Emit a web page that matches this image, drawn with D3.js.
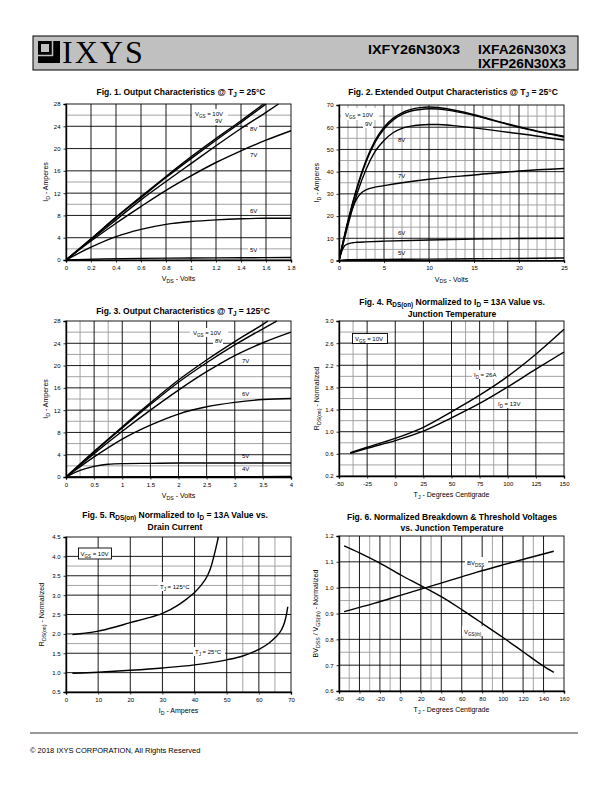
<!DOCTYPE html>
<html><head><meta charset="utf-8">
<script src="https://cdn.jsdelivr.net/npm/d3@7/dist/d3.min.js"></script>
<style>body{margin:0;background:#fff}svg{display:block}</style>
</head><body>
<svg id="page" width="612" height="792"></svg>
<script>
// ---------------- DATA ----------------
// Fig.1 Output characteristics @ 25C (VDS volts, ID amps)
const fig1_10V = [[0,0],[0.2,3.8],[0.4,7.7],[0.6,11.4],[0.8,15.0],[1.0,18.5],[1.2,21.8],[1.4,25.0],[1.58,28]];
const fig1_9V  = [[0,0],[0.2,3.75],[0.4,7.6],[0.6,11.2],[0.8,14.8],[1.0,18.2],[1.2,21.5],[1.4,24.7],[1.6,28]];
const fig1_8V  = [[0,0],[0.2,3.6],[0.4,7.2],[0.6,10.8],[0.8,14.1],[1.0,17.3],[1.2,20.5],[1.4,23.6],[1.6,26.5],[1.7,28]];
const fig1_7V  = [[0,0],[0.2,3.4],[0.4,6.6],[0.6,9.6],[0.8,12.5],[1.0,15.1],[1.2,17.5],[1.4,19.6],[1.6,21.5],[1.8,23.2]];
const fig1_6V  = [[0,0],[0.2,2.3],[0.4,4.2],[0.6,5.5],[0.8,6.4],[1.0,6.9],[1.2,7.2],[1.4,7.4],[1.6,7.5],[1.8,7.5]];
const fig1_5V  = [[0,0],[0.3,0.2],[0.6,0.3],[1.0,0.35],[1.4,0.4],[1.8,0.45]];
// Fig.2 Extended output characteristics @ 25C
const fig2_10V = [[0,0],[1,18],[2,33],[3,45],[4,54],[5,60],[6,64],[7,66.5],[8,68],[9,68.8],[10,69.1],[11,68.9],[12,68.3],[13,67.5],[15,65.6],[17,63.4],[19,61.2],[21,59.2],[23,57.4],[25,56]];
const fig2_9V  = [[0,0],[1,17.5],[2,32.3],[3,44.3],[4,53.2],[5,59.2],[6,63.2],[7,65.8],[8,67.3],[9,68],[10,68.3],[11,68.2],[12,67.7],[13,67],[15,65.3],[17,63.2],[19,61],[21,59],[23,57.2],[25,55.6]];
const fig2_8V  = [[0,0],[1,16],[2,30],[3,41],[4,49],[5,54],[6,57.5],[7,59.5],[8,60.5],[9,61],[10,61.2],[11,61.2],[12,61],[13,60.6],[15,59.7],[17,58.7],[19,57.6],[21,56.6],[23,55.4],[25,54.2]];
const fig2_7V  = [[0,0],[0.5,9],[1,17],[1.5,23.5],[2,28],[2.5,30.5],[3,31.8],[4,33],[5,33.7],[7,35],[10,36.6],[15,38.5],[20,40.3],[25,41.4]];
const fig2_6V  = [[0,0],[0.3,4],[0.6,6.5],[1,7.5],[1.5,8],[2,8.2],[3,8.4],[5,8.7],[10,9.2],[15,9.6],[20,9.9],[25,10]];
const fig2_5V  = [[0,0],[1,0.4],[5,0.5],[10,0.6],[15,0.8],[20,0.9],[25,1.1]];
// Fig.3 Output characteristics @ 125C
const fig3_10V = [[0,0],[0.5,4.6],[1,9.0],[1.5,13.3],[2,17.4],[2.5,21.0],[3,24.3],[3.5,27.4],[3.59,28]];
const fig3_8V  = [[0,0],[0.5,4.5],[1,8.8],[1.5,13.0],[2,17.0],[2.5,20.5],[3,23.7],[3.5,26.6],[3.75,28]];
const fig3_7V  = [[0,0],[0.5,4.2],[1,8.2],[1.5,12],[2,15.6],[2.5,18.9],[3,21.8],[3.5,24.1],[4,26]];
const fig3_6V  = [[0,0],[0.5,3.6],[1,6.8],[1.5,9.3],[2,11.3],[2.5,12.6],[3,13.4],[3.5,13.9],[4,14.1]];
const fig3_5V  = [[0,0],[0.25,1.2],[0.5,1.9],[0.75,2.3],[1,2.4],[1.5,2.45],[2,2.5],[3,2.5],[4,2.5]];
const fig3_4V  = [[0,0],[2,0.05],[4,0.08]];
// Fig.4 RDS(on) normalized vs junction temperature
const fig4_26A = [[-40,0.62],[-25,0.72],[0,0.88],[25,1.08],[50,1.36],[75,1.66],[100,2.0],[125,2.4],[150,2.85]];
const fig4_13A = [[-40,0.61],[-25,0.70],[0,0.84],[25,1.01],[50,1.25],[75,1.51],[100,1.81],[125,2.13],[150,2.44]];
// Fig.5 RDS(on) normalized vs drain current
const fig5_125C = [[2,1.98],[5,2.01],[10,2.07],[15,2.17],[20,2.29],[25,2.4],[30,2.53],[35,2.75],[38,2.93],[40,3.07],[42,3.25],[44,3.5],[45,3.7],[46,4.0],[47,4.35],[47.4,4.5]];
const fig5_25C  = [[2,0.98],[5,0.99],[10,1.01],[20,1.06],[30,1.12],[40,1.2],[50,1.33],[55,1.43],[60,1.6],[63,1.75],[65,1.9],[67,2.1],[68,2.3],[68.7,2.55],[69,2.7]];
// Fig.6 Normalized breakdown & threshold voltages
const fig6_BVDSS = [[-55,0.907],[-25,0.94],[0,0.97],[25,1.0],[50,1.03],[75,1.06],[100,1.088],[125,1.115],[150,1.141]];
const fig6_VGSth = [[-55,1.162],[-40,1.135],[-20,1.095],[0,1.05],[20,1.008],[40,0.965],[60,0.915],[80,0.862],[100,0.808],[120,0.752],[140,0.696],[150,0.672]];
// tick values
const fig1XTicks = [0,0.2,0.4,0.6,0.8,1,1.2,1.4,1.6,1.8];
const fig1YTicks = [0,4,8,12,16,20,24,28];
const fig2XTicks = [0,5,10,15,20,25];
const fig2YTicks = [0,10,20,30,40,50,60,70];
const fig3XTicks = [0,0.5,1,1.5,2,2.5,3,3.5,4];
const fig3YTicks = [0,4,8,12,16,20,24,28];
const fig4XTicks = [-50,-25,0,25,50,75,100,125,150];
const fig4YTicks = [0.2,0.6,1.0,1.4,1.8,2.2,2.6,3.0];
const fig5XTicks = [0,10,20,30,40,50,60,70];
const fig5YTicks = [0.5,1.0,1.5,2.0,2.5,3.0,3.5,4.0,4.5];
const fig6XTicks = [-60,-40,-20,0,20,40,60,80,100,120,140,160];
const fig6YTicks = [0.6,0.7,0.8,0.9,1.0,1.1,1.2];

// ---------------- DRAWING ----------------
const svg = d3.select('#page');
const SANS = "'Liberation Sans', Arial, sans-serif";
const NARROW = "'Liberation Sans Narrow', 'Liberation Sans', Arial, sans-serif";

function rich(t, str, size){
  const parts = str.split(/(_\{[^}]*\}|\^\{[^}]*\})/);
  let pending = 0;
  parts.forEach(p=>{
    if(!p) return;
    if(p.startsWith('_{')){
      t.append('tspan').attr('font-size', size*0.75).attr('dy', size*0.25 - pending).text(p.slice(2,-1));
      pending = size*0.25;
    } else {
      const s = t.append('tspan').text(p);
      if(pending){ s.attr('dy', -pending); pending = 0; }
    }
  });
  return t;
}

function text(x, y, str, opt={}){
  const size = opt.size || 7;
  const t = svg.append('text').attr('x', x).attr('y', y)
    .attr('font-family', opt.family || SANS).attr('font-size', size)
    .attr('font-weight', opt.weight || 'normal')
    .attr('text-anchor', opt.anchor || 'start').attr('fill', '#000');
  if(opt.rotate) t.attr('transform', `rotate(-90,${x},${y})`);
  rich(t, str, size);
  return t;
}

// Header
svg.append('rect').attr('x',33).attr('y',36).attr('width',545).attr('height',34)
  .attr('fill','#c0c0c0').attr('stroke','#000').attr('stroke-width',1);
// logo mark
svg.append('rect').attr('x',38).attr('y',41).attr('width',22).attr('height',22).attr('fill','#000');
svg.append('rect').attr('x',41).attr('y',44).attr('width',8).attr('height',8).attr('fill','#c0c0c0');
svg.append('line').attr('x1',38).attr('x2',53).attr('y1',55.5).attr('y2',55.5).attr('stroke','#c0c0c0').attr('stroke-width',1.5);
svg.append('line').attr('x1',52.5).attr('x2',52.5).attr('y1',41).attr('y2',56).attr('stroke','#c0c0c0').attr('stroke-width',1.5);
text(62, 63, 'IXYS', {size:32, family:"'Liberation Serif', 'DejaVu Serif', serif"}).attr('letter-spacing', 2);
text(368, 53.5, 'IXFY26N30X3', {size:12, weight:'bold'}).attr('textLength',92).attr('lengthAdjust','spacingAndGlyphs');
text(478, 53.5, 'IXFA26N30X3', {size:12, weight:'bold'}).attr('textLength',88).attr('lengthAdjust','spacingAndGlyphs');
text(478, 67.5, 'IXFP26N30X3', {size:12, weight:'bold'}).attr('textLength',88).attr('lengthAdjust','spacingAndGlyphs');

// Footer
svg.append('line').attr('x1',30).attr('x2',578).attr('y1',733).attr('y2',733).attr('stroke','#000').attr('stroke-width',0.8);
text(30, 753, '© 2018 IXYS CORPORATION, All Rights Reserved', {size:7.5});

function chart(cfg){
  const {x0,x1,y0,y1} = cfg.box;
  const xs = d3.scaleLinear().domain(cfg.xDomain).range([x0,x1]);
  const ys = d3.scaleLinear().domain(cfg.yDomain).range([y1,y0]);
  const g = svg.append('g');
  (cfg.grayX||[]).forEach(v=>g.append('line').attr('x1',xs(v)).attr('x2',xs(v)).attr('y1',y0).attr('y2',y1).attr('stroke','#9a9a9a').attr('stroke-width',0.9));
  (cfg.grayY||[]).forEach(v=>g.append('line').attr('y1',ys(v)).attr('y2',ys(v)).attr('x1',x0).attr('x2',x1).attr('stroke','#9a9a9a').attr('stroke-width',0.9));
  (cfg.blackX||[]).forEach(v=>g.append('line').attr('x1',xs(v)).attr('x2',xs(v)).attr('y1',y0).attr('y2',y1).attr('stroke','#000').attr('stroke-width',0.9));
  (cfg.blackY||[]).forEach(v=>g.append('line').attr('y1',ys(v)).attr('y2',ys(v)).attr('x1',x0).attr('x2',x1).attr('stroke','#000').attr('stroke-width',0.9));
  g.append('rect').attr('x',x0).attr('y',y0).attr('width',x1-x0).attr('height',y1-y0).attr('fill','none').attr('stroke','#000').attr('stroke-width',0.9);
  const xa = g.append('g').attr('transform',`translate(0,${y1})`)
    .call(d3.axisBottom(xs).tickValues(cfg.xTicks).tickSize(2.5).tickPadding(3).tickFormat(cfg.xFmt||(d=>String(d))));
  const ya = g.append('g').attr('transform',`translate(${x0},0)`)
    .call(d3.axisLeft(ys).tickValues(cfg.yTicks).tickSize(2.5).tickPadding(3).tickFormat(cfg.yFmt||(d=>String(d))));
  [xa,ya].forEach(a=>{
    a.selectAll('path.domain').attr('stroke','#000').attr('stroke-width',1.4);
    a.selectAll('.tick line').attr('stroke','#000').attr('stroke-width',0.8);
    a.selectAll('text').attr('font-family',SANS).attr('font-size',6).attr('fill','#000');
  });
  (cfg.labels||[]).forEach(l=>{
    if(l.bg){ g.append('rect').attr('x',l.bg[0]).attr('y',l.bg[1]).attr('width',l.bg[2]).attr('height',l.bg[3]).attr('fill','#fff').attr('stroke', l.box?'#000':'none').attr('stroke-width',0.9); }
  });
  const clipId = 'clip'+cfg.id;
  svg.append('clipPath').attr('id',clipId).append('rect').attr('x',x0).attr('y',y0-1).attr('width',x1-x0+1).attr('height',y1-y0+1);
  const line = d3.line().x(d=>xs(d[0])).y(d=>ys(d[1])).curve(d3.curveMonotoneX);
  cfg.series.forEach(s=>{
    g.append('path').attr('d',line(s)).attr('fill','none').attr('stroke','#000').attr('stroke-width',1.4).attr('clip-path',`url(#${clipId})`);
  });
  (cfg.labels||[]).forEach(l=>{ text(l.x,l.y,l.t,{size:l.size||6}); });
  cfg.title.forEach((t,i)=>text(cfg.titleX, cfg.titleY+i*11.5, t, {size:8.5, weight:'bold', anchor:'middle', family:NARROW}));
  text((x0+x1)/2, y1+21, cfg.xLabel, {size:7, anchor:'middle'});
  text(x0-cfg.yLabelOff, (y0+y1)/2, cfg.yLabel, {size:7, anchor:'middle', rotate:true});
}

const f1 = d=>d===0?'0':d3.format('.1f')(d).replace(/\.0$/,'');
const f1d = d=>d3.format('.1f')(d);

chart({id:1, box:{x0:66,x1:291,y0:104,y1:260}, xDomain:[0,1.8], yDomain:[0,28],
  xTicks:fig1XTicks, yTicks:fig1YTicks, xFmt:f1,
  blackX:[0.2,0.4,0.6,0.8,1.0,1.2,1.4,1.6], blackY:[4,8,12,16,20,24], grayY:[2,10,14,26],
  series:[fig1_10V,fig1_9V,fig1_8V,fig1_7V,fig1_6V,fig1_5V],
  labels:[{x:195,y:116,t:'V_{GS} = 10V',bg:[192,109,36,9]},{x:215,y:123,t:'9V',bg:[213,117,10,8]},
          {x:250,y:131,t:'8V',bg:[248,125,11,8]},{x:250,y:157,t:'7V',bg:[248,151,11,8]},
          {x:250,y:213,t:'6V',bg:[248,207,11,8]},{x:250,y:252,t:'5V',bg:[248,246,11,8]}],
  title:['Fig. 1. Output Characteristics @ T_{J} = 25°C'], titleX:181, titleY:94.5,
  xLabel:'V_{DS} - Volts', yLabel:'I_{D} - Amperes', yLabelOff:18});

chart({id:2, box:{x0:339,x1:564,y0:105,y1:260.5}, xDomain:[0,25], yDomain:[0,70],
  xTicks:fig2XTicks, yTicks:fig2YTicks,
  blackX:[5,10,15,20], grayX:d3.range(1,25).filter(v=>v%5!==0), blackY:[10,20,30,40,50,60], grayY:[5,15,25,35,45,55,65],
  series:[fig2_10V,fig2_9V,fig2_8V,fig2_7V,fig2_6V,fig2_5V],
  labels:[{x:345,y:117,t:'V_{GS} = 10V',bg:[341,108,38,12]},{x:365,y:126,t:'9V',bg:[363,120,10,8]},
          {x:398,y:142,t:'8V'},{x:398,y:178,t:'7V'},{x:398,y:235,t:'6V'},{x:398,y:255,t:'5V'}],
  title:['Fig. 2. Extended Output Characteristics @ T_{J} = 25°C'], titleX:453, titleY:94.5,
  xLabel:'V_{DS} - Volts', yLabel:'I_{D} - Amperes', yLabelOff:20});

chart({id:3, box:{x0:66,x1:291,y0:321,y1:477}, xDomain:[0,4], yDomain:[0,28],
  xTicks:fig3XTicks, yTicks:fig3YTicks, xFmt:f1,
  blackX:[0.5,1,1.5,2,2.5,3,3.5], grayX:[0.25,0.75], blackY:[4,8,12,16,20,24], grayY:[2,6,10,14,18,22,26],
  series:[fig3_10V,fig3_8V,fig3_7V,fig3_6V,fig3_5V,fig3_4V],
  labels:[{x:193,y:335,t:'V_{GS} = 10V',bg:[190,328,38,9]},{x:215,y:343,t:'8V',bg:[213,337,10,8]},
          {x:242,y:363,t:'7V'},{x:242,y:396,t:'6V'},{x:242,y:458,t:'5V'},{x:242,y:471,t:'4V'}],
  title:['Fig. 3. Output Characteristics @ T_{J} = 125°C'], titleX:183, titleY:313.5,
  xLabel:'V_{DS} - Volts', yLabel:'I_{D} - Amperes', yLabelOff:18});

chart({id:4, box:{x0:339,x1:564,y0:321,y1:476}, xDomain:[-50,150], yDomain:[0.2,3.0],
  xTicks:fig4XTicks, yTicks:fig4YTicks, yFmt:f1d,
  blackX:[-25,0,25,50,75,100,125], grayX:[-37.5,62.5,87.5], blackY:[0.6,1.0,1.4,1.8,2.2,2.6], grayY:[0.4,0.8,1.2,1.6,2.0,2.4,2.8],
  series:[fig4_26A,fig4_13A],
  labels:[{x:355,y:341,t:'V_{GS} = 10V',bg:[352.5,333.5,35,10],box:true},
          {x:474,y:377,t:'I_{D} = 26A',bg:[472,370,31,9]},{x:498,y:406,t:'I_{D} = 13V',bg:[496,399,32,9]}],
  title:['Fig. 4. R_{DS(on)} Normalized to I_{D} = 13A Value vs.','Junction Temperature'], titleX:452, titleY:305,
  xLabel:'T_{J} - Degrees Centigrade', yLabel:'R_{DS(on)} - Normalized', yLabelOff:20});

chart({id:5, box:{x0:66,x1:291,y0:537,y1:692}, xDomain:[0,70], yDomain:[0.5,4.5],
  xTicks:fig5XTicks, yTicks:fig5YTicks, yFmt:f1d,
  blackX:[10,20,30,40,50,60], grayX:[55,65], blackY:[1.0,1.5,2.0,2.5,3.0,3.5,4.0], grayY:[1.75,3.25,3.75],
  series:[fig5_125C,fig5_25C],
  labels:[{x:80.5,y:556,t:'V_{GS} = 10V',bg:[78.5,548,33,11],box:true},
          {x:160,y:589,t:'T_{J} = 125°C',bg:[158,582,35,9]},{x:195,y:654,t:'T_{J} = 25°C',bg:[193,647,32,9]}],
  title:['Fig. 5. R_{DS(on)} Normalized to I_{D} = 13A Value vs.','Drain Current'], titleX:175, titleY:518,
  xLabel:'I_{D} - Amperes', yLabel:'R_{DS(on)} - Normalized', yLabelOff:22});

chart({id:6, box:{x0:339,x1:564,y0:536,y1:691}, xDomain:[-60,160], yDomain:[0.6,1.2],
  xTicks:fig6XTicks, yTicks:fig6YTicks, yFmt:f1d,
  blackX:[-40,-20,0,20,40,60,80,100,120,140], grayX:[-50,-30,-10,30,90,130], blackY:[0.7,0.8,0.9,1.0,1.1], grayY:[0.65,0.75,0.95],
  series:[fig6_BVDSS,fig6_VGSth],
  labels:[{x:467,y:565,t:'BV_{DSS}',bg:[465,557,23,10]},{x:464,y:634,t:'V_{GS(th)}',bg:[462,626,23,10]}],
  title:['Fig. 6. Normalized Breakdown & Threshold Voltages','vs. Junction Temperature'], titleX:452, titleY:519.5,
  xLabel:'T_{J} - Degrees Centigrade', yLabel:'BV_{DSS} / V_{GS(th)} - Normalized', yLabelOff:21});
</script>
</body></html>
